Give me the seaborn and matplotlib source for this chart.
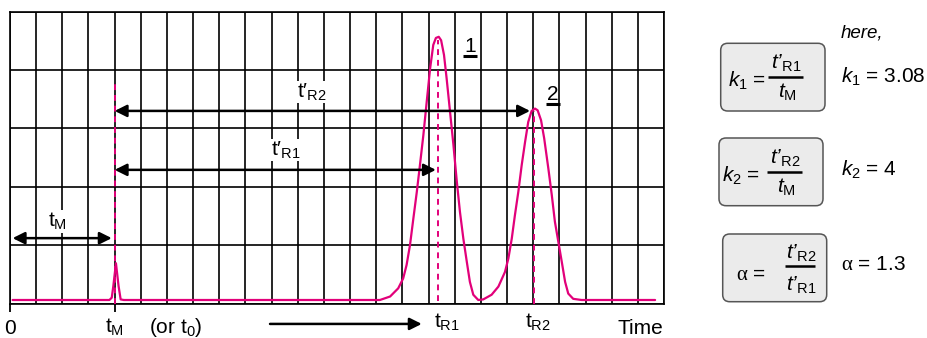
import matplotlib
matplotlib.use("Agg")
import matplotlib.pyplot as plt
import seaborn as sns
import pandas as pd
from matplotlib.patches import FancyBboxPatch

# ---------------- data ----------------
time = [0.10, 3.80, 3.89, 3.95, 4.05, 4.15, 4.23, 4.35,
        13.90, 14.14, 14.53, 14.84, 15.03, 15.16, 15.29, 15.42, 15.55, 15.67,
        15.80, 15.93, 16.06, 16.18, 16.28, 16.39, 16.48, 16.59, 16.69, 16.82,
        16.95, 17.08, 17.20, 17.33, 17.46, 17.58, 17.71, 17.90, 18.09,
        18.41, 18.67, 18.92, 19.05, 19.18, 19.30, 19.43, 19.56, 19.69, 19.81,
        19.94, 20.07, 20.17, 20.30, 20.42, 20.58, 20.71, 20.83, 20.96, 21.09,
        21.22, 21.34, 21.53, 21.85, 24.66]
signal = [0.06, 0.06, 0.10, 0.30, 0.69, 0.30, 0.07, 0.06,
          0.06, 0.06, 0.12, 0.26, 0.43, 0.66, 1.00, 1.46, 1.91, 2.37,
          2.88, 3.46, 4.03, 4.43, 4.55, 4.57, 4.51, 4.26, 3.86, 3.29,
          2.72, 2.09, 1.57, 1.11, 0.72, 0.37, 0.15, 0.06, 0.07,
          0.15, 0.29, 0.54, 0.77, 1.11, 1.51, 1.91, 2.37, 2.77, 3.11,
          3.30, 3.34, 3.31, 3.14, 2.83, 2.31, 1.86, 1.40, 1.06, 0.72,
          0.37, 0.17, 0.08, 0.06, 0.06]
t_M = 4.0
t_R1 = 16.32
t_R2 = 20.0
peak1_height = 4.57
peak2_height = 3.34
k1_value = "3.08"
k2_value = "4"
alpha_value = "1.3"

PINK = "#e2007a"

sns.set_theme(style="white")
plt.rcParams["font.family"] = ["Liberation Sans", "DejaVu Sans"]
plt.rcParams["text.color"] = "black"
plt.rcParams["mathtext.fontset"] = "custom"
plt.rcParams["mathtext.rm"] = "Liberation Sans"
plt.rcParams["mathtext.it"] = "Liberation Sans:italic"
plt.rcParams["mathtext.sf"] = "Liberation Serif"

fig = plt.figure(figsize=(9.28, 3.38), dpi=100)
ax = fig.add_axes([10 / 928, (338 - 303.5) / 338, 654 / 928, 291.8 / 338])

df = pd.DataFrame({"time": time, "signal": signal})
sns.lineplot(data=df, x="time", y="signal", ax=ax, color=PINK, lw=1.6,
             sort=False, zorder=4)

ax.set_xlim(0, 25)
ax.set_ylim(0, 5)
ax.set_xticks(range(0, 26), minor=True)
ax.set_xticks([0, t_M])
ax.set_xticklabels([])
ax.set_yticks(range(0, 6))
ax.set_yticklabels([])
ax.grid(which="both", color="black", lw=1.2)
ax.tick_params(axis="x", which="major", length=6, width=1.3, color="black",
               direction="out", bottom=True)
ax.tick_params(axis="x", which="minor", length=0)
ax.tick_params(axis="y", length=0)
ax.set_xlabel("")
ax.set_ylabel("")
for s in ax.spines.values():
    s.set_visible(True)
    s.set_color("black")
    s.set_linewidth(1.2)
ax.set_axisbelow(True)

# dashed retention lines
dash = (0, (3, 2.5))
ax.vlines([t_M], 0, 3.78, colors=PINK, linestyles=dash, lw=1.4, zorder=5)
ax.vlines([t_R1 + 0.03], 0.05, peak1_height - 0.05, colors=PINK, linestyles=dash, lw=1.4, zorder=5)
ax.vlines([t_R2 + 0.03], 0, peak2_height - 0.05, colors=PINK, linestyles=dash, lw=1.4, zorder=5)

arrow2 = dict(arrowstyle="<|-|>", mutation_scale=18, lw=1.8, color="black",
              shrinkA=0, shrinkB=0)
ax.annotate("", xy=(t_M, 3.30), xytext=(19.88, 3.30), arrowprops=arrow2, zorder=6)
ax.annotate("", xy=(t_M, 2.29), xytext=(16.28, 2.29), arrowprops=arrow2, zorder=6)
ax.annotate("", xy=(0.1, 1.12), xytext=(3.89, 1.12), arrowprops=arrow2, zorder=6)

FS = 15
wbox = dict(fc="white", ec="none", pad=0.5)
ax.text(11.53, 3.53, "t′$_{\\mathrm{R2}}$", ha="center", va="baseline", fontsize=FS, bbox=wbox)
ax.text(10.55, 2.54, "t′$_{\\mathrm{R1}}$", ha="center", va="baseline", fontsize=FS, bbox=wbox)
ax.text(1.82, 1.31, "t$_{\\mathrm{M}}$", ha="center", va="baseline", fontsize=FS, bbox=wbox)

# peak labels (underlined)
ax.text(17.58, 4.31, "1", ha="center", va="baseline", fontsize=FS, zorder=7)
ax.plot([17.33, 17.84], [4.24, 4.24], color="black", lw=2.2, solid_capstyle="butt", zorder=7)
ax.text(20.76, 3.48, "2", ha="center", va="baseline", fontsize=FS, zorder=7)
ax.plot([20.49, 21.02], [3.42, 3.42], color="black", lw=2.2, solid_capstyle="butt", zorder=7)

# below axis labels
ax.text(0.0, -0.53, "0", ha="center", va="baseline", fontsize=FS, clip_on=False)
ax.text(t_M, -0.50, "t$_{\\mathrm{M}}$", ha="center", va="baseline", fontsize=FS, clip_on=False)
ax.text(6.35, -0.50, "(or t$_{\\mathrm{0}}$)", ha="center", va="baseline", fontsize=FS, clip_on=False)
ax.text(t_R1 + 0.4, -0.42, "t$_{\\mathrm{R1}}$", ha="center", va="baseline", fontsize=FS, clip_on=False)
ax.text(t_R2 + 0.2, -0.42, "t$_{\\mathrm{R2}}$", ha="center", va="baseline", fontsize=FS, clip_on=False)
ax.text(24.97, -0.53, "Time", ha="right", va="baseline", fontsize=FS, clip_on=False)
ax.annotate("", xy=(15.74, -0.35), xytext=(9.94, -0.35),
            arrowprops=dict(arrowstyle="-|>", mutation_scale=18, lw=1.8, color="black",
                            shrinkA=0, shrinkB=0), annotation_clip=False)

# right panel, pixel coordinates
ov = fig.add_axes([0, 0, 1, 1])
ov.set_xlim(0, 928)
ov.set_ylim(338, 0)
ov.axis("off")
ov.patch.set_alpha(0)

ov.text(841, 37, "here,", fontsize=13.5, style="italic", ha="left", va="baseline")
boxes = [(720.7, 43.3, 104.3, 67.7), (719, 138, 104, 67.7), (722.7, 234, 104, 67.7)]
for (x0, y0, w, h) in boxes:
    ov.add_patch(FancyBboxPatch((x0, y0), w, h, boxstyle="round,pad=0,rounding_size=7",
                                fc="#ebebeb", ec="#555555", lw=1.1))

FF = 15
# formula 1
ov.text(728, 86.5, r"$k_1$ =", fontsize=FF, ha="left", va="baseline")
ov.text(786, 68.5, "t’$_{\\mathrm{R1}}$", fontsize=FF, style="italic", ha="center", va="baseline")
ov.plot([768, 803], [76.7, 76.7], color="black", lw=1.8, solid_capstyle="butt")
ov.text(787, 98, r"$t_{\mathrm{M}}$", fontsize=FF, ha="center", va="baseline")
# formula 2
ov.text(722, 181.5, r"$k_2$ =", fontsize=FF, ha="left", va="baseline")
ov.text(785, 163.5, "t’$_{\\mathrm{R2}}$", fontsize=FF, style="italic", ha="center", va="baseline")
ov.plot([767, 802], [171.7, 171.7], color="black", lw=1.8, solid_capstyle="butt")
ov.text(786, 193, r"$t_{\mathrm{M}}$", fontsize=FF, ha="center", va="baseline")
# formula 3
ov.text(736, 280, r"$\mathsf{\alpha}$ =", fontsize=FF, ha="left", va="baseline")
ov.text(801, 259, "t’$_{\\mathrm{R2}}$", fontsize=FF, style="italic", ha="center", va="baseline")
ov.plot([785, 815], [265.5, 265.5], color="black", lw=1.8, solid_capstyle="butt")
ov.text(801, 291, "t’$_{\\mathrm{R1}}$", fontsize=FF, style="italic", ha="center", va="baseline")

ov.text(841, 76.7, r"$k_1$ = " + k1_value, fontsize=FS, ha="left", va="center")
ov.text(841, 170, r"$k_2$ = " + k2_value, fontsize=FS, ha="left", va="center")
ov.text(841, 265, r"$\mathsf{\alpha}$ = " + alpha_value, fontsize=FS, ha="left", va="center")

fig.savefig("out.png", dpi=100)
